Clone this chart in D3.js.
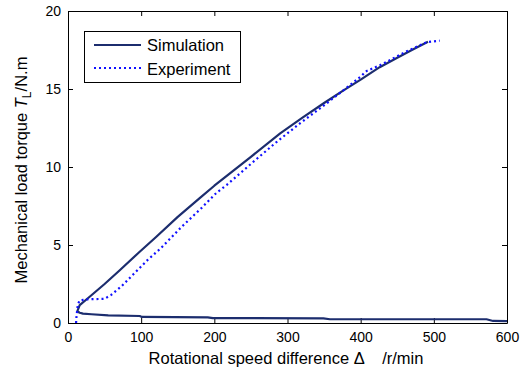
<!DOCTYPE html>
<html>
<head>
<meta charset="utf-8">
<script src="https://cdn.jsdelivr.net/npm/d3@7"></script>
<style>
  body { margin: 0; background: #fff; }
  text { font-family: "Liberation Sans", Arial, sans-serif; fill: #000; }
</style>
</head>
<body>
<svg id="chart" width="526" height="369"></svg>
<script>
// simulation curve: rising branch then the low branch back out to 600
var simUpper = [[492, 18.03], [470, 17.5], [450, 17.0], [426, 16.4], [400, 15.6], [376, 14.9],
                [350, 14.1], [320, 13.15], [290, 12.16], [250, 10.65], [200, 8.8], [180, 8.0],
                [150, 6.8], [120, 5.5], [98, 4.57], [70, 3.35], [50, 2.5], [30, 1.7], [16, 1.15], [12.7, 0.75]];
var simLower = [[12.7, 0.75], [16, 0.66], [20.5, 0.6], [32, 0.56], [55, 0.49], [98, 0.45], [101, 0.39],
                [191, 0.36], [198, 0.31], [349, 0.3], [358, 0.24], [572, 0.24], [581, 0.13], [600, 0.12]];
var expData = [[11, 0], [11.5, 0.35], [12.5, 0.8], [13.5, 1.2], [16, 1.45], [27, 1.52], [50, 1.55],
               [59, 1.8], [73, 2.35], [91, 3.2], [109, 4.05], [127, 4.8], [155, 6.15], [182, 7.35],
               [203, 8.35], [217, 8.85], [250, 10.2], [285, 11.6], [317, 12.8], [354, 14.1],
               [376, 14.9], [400, 15.8], [408, 16.15], [430, 16.6], [460, 17.35], [490, 18.0], [508, 18.1]];
var xTicks = [0, 100, 200, 300, 400, 500, 600];
var yTicks = [0, 5, 10, 15, 20];
var legendNames = ["Simulation", "Experiment"];

var plotLeft = 68, plotRight = 507, plotTop = 11, plotBottom = 323;
var svg = d3.select("#chart");

var x = d3.scaleLinear().domain([0, 600]).range([plotLeft, plotRight]);
var y = d3.scaleLinear().domain([0, 20]).range([plotBottom, plotTop]);

var line = d3.line().x(function(d) {return x(d[0]);}).y(function(d) {return y(d[1]);});

// axes, MATLAB style box with inward ticks on all four sides
var gx = svg.append("g").attr("transform", "translate(0," + plotBottom + ")")
  .call(d3.axisBottom(x).tickValues(xTicks).tickSizeInner(-5).tickSizeOuter(0).tickPadding(9));
var gxTop = svg.append("g").attr("transform", "translate(0," + plotTop + ")")
  .call(d3.axisTop(x).tickValues(xTicks).tickSizeInner(-5).tickSizeOuter(0).tickFormat(""));
var gy = svg.append("g").attr("transform", "translate(" + plotLeft + ",0)")
  .call(d3.axisLeft(y).tickValues(yTicks).tickSizeInner(-5).tickSizeOuter(0).tickPadding(7));
var gyRight = svg.append("g").attr("transform", "translate(" + plotRight + ",0)")
  .call(d3.axisRight(y).tickValues(yTicks).tickSizeInner(-5).tickSizeOuter(0).tickFormat(""));

[gx, gxTop, gy, gyRight].forEach(function(g) {
  g.selectAll("path.domain").attr("stroke", "#000").attr("stroke-width", 1);
  g.selectAll(".tick line").attr("stroke", "#000");
  g.selectAll(".tick text").style("font-size", "14px").attr("font-family", "Liberation Sans, Arial, sans-serif");
});

svg.append("path").datum(simUpper.concat(simLower))
  .attr("d", line).attr("fill", "none")
  .attr("stroke", "#1c2d6e").attr("stroke-width", 2.2).attr("stroke-linejoin", "round");

svg.append("path").datum(expData)
  .attr("d", line).attr("fill", "none")
  .attr("stroke", "#1010ff").attr("stroke-width", 2.2).attr("stroke-dasharray", "2,3");

// legend
svg.append("rect").attr("x", 84.5).attr("y", 31.5).attr("width", 156).attr("height", 51)
  .attr("fill", "#fff").attr("stroke", "#000").attr("stroke-width", 1);
svg.append("line").attr("x1", 94).attr("x2", 141).attr("y1", 45).attr("y2", 45)
  .attr("stroke", "#1c2d6e").attr("stroke-width", 2.2);
svg.append("line").attr("x1", 94).attr("x2", 141).attr("y1", 68).attr("y2", 68)
  .attr("stroke", "#1010ff").attr("stroke-width", 2.2).attr("stroke-dasharray", "2,3");
svg.selectAll("text.legend").data(legendNames).enter().append("text")
  .attr("class", "legend")
  .attr("x", 147)
  .attr("y", function(d, i) {return 51 + i * 24;})
  .style("font-size", "16.5px")
  .text(function(d) {return d;});

// axis labels
svg.append("text")
  .attr("x", 286).attr("y", 364)
  .attr("text-anchor", "middle").style("font-size", "16.5px")
  .attr("xml:space", "preserve")
  .text("Rotational speed difference \u0394    /r/min");

var yl = svg.append("text")
  .attr("transform", "translate(27,170) rotate(-90)")
  .attr("text-anchor", "middle").style("font-size", "16.5px");
yl.append("tspan").text("Mechanical load torque ");
yl.append("tspan").attr("font-style", "italic").text("T");
yl.append("tspan").style("font-size", "12px").attr("dy", 4).text("L");
yl.append("tspan").attr("dy", -4).text("/N.m");
</script>
</body>
</html>
